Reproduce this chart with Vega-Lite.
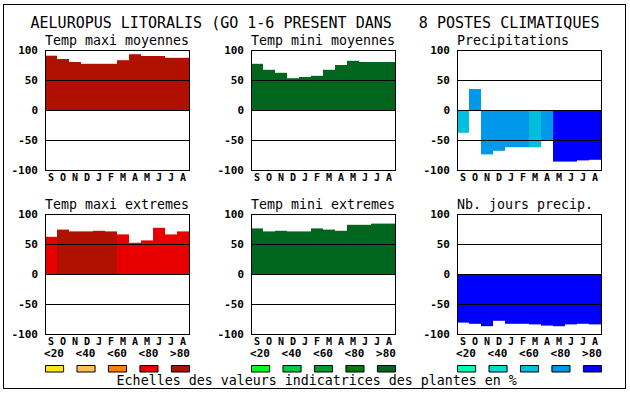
{
"$schema": "https://vega.github.io/schema/vega-lite/v6.json",
"padding": {"left": 3, "top": 4, "right": 0, "bottom": 0},
"autosize": {"type": "pad"},
"background": "white",
"columns": 9,
"spacing": 0,
"bounds": "flush",
"align": "each",
"config": {"view": {"stroke": null}},
"datasets": {
"p1": [{"m":"Sep","v":90.5,"c":"r5"},{"m":"Oct","v":85,"c":"r5"},{"m":"Nov","v":80,"c":"r5"},{"m":"Dec","v":77,"c":"r5"},{"m":"Jan","v":77,"c":"r5"},{"m":"Feb","v":77,"c":"r5"},{"m":"Mar","v":83,"c":"r5"},{"m":"Apr","v":93,"c":"r5"},{"m":"May","v":90,"c":"r5"},{"m":"Jun","v":90,"c":"r5"},{"m":"Jul","v":87,"c":"r5"},{"m":"Aug","v":87,"c":"r5"}],
"p2": [{"m":"Sep","v":77,"c":"g5"},{"m":"Oct","v":67,"c":"g5"},{"m":"Nov","v":62,"c":"g5"},{"m":"Dec","v":53,"c":"g5"},{"m":"Jan","v":55,"c":"g5"},{"m":"Feb","v":57,"c":"g5"},{"m":"Mar","v":67,"c":"g5"},{"m":"Apr","v":75,"c":"g5"},{"m":"May","v":82,"c":"g5"},{"m":"Jun","v":80,"c":"g5"},{"m":"Jul","v":80,"c":"g5"},{"m":"Aug","v":80,"c":"g5"}],
"p3": [{"m":"Sep","v":-38,"c":"b3"},{"m":"Oct","v":35,"c":"b4"},{"m":"Nov","v":-74,"c":"b4"},{"m":"Dec","v":-68,"c":"b4"},{"m":"Jan","v":-62,"c":"b4"},{"m":"Feb","v":-62,"c":"b4"},{"m":"Mar","v":-62,"c":"b3"},{"m":"Apr","v":-50,"c":"b4"},{"m":"May","v":-86,"c":"b5"},{"m":"Jun","v":-86,"c":"b5"},{"m":"Jul","v":-84,"c":"b5"},{"m":"Aug","v":-83,"c":"b5"}],
"p4": [{"m":"Sep","v":62,"c":"r4"},{"m":"Oct","v":74,"c":"r5"},{"m":"Nov","v":71,"c":"r5"},{"m":"Dec","v":71,"c":"r5"},{"m":"Jan","v":72,"c":"r5"},{"m":"Feb","v":71,"c":"r5"},{"m":"Mar","v":66,"c":"r4"},{"m":"Apr","v":52,"c":"r4"},{"m":"May","v":56,"c":"r4"},{"m":"Jun","v":77,"c":"r4"},{"m":"Jul","v":66,"c":"r4"},{"m":"Aug","v":71,"c":"r4"}],
"p5": [{"m":"Sep","v":76,"c":"g5"},{"m":"Oct","v":71,"c":"g5"},{"m":"Nov","v":72,"c":"g5"},{"m":"Dec","v":71,"c":"g5"},{"m":"Jan","v":71,"c":"g5"},{"m":"Feb","v":76,"c":"g5"},{"m":"Mar","v":74,"c":"g5"},{"m":"Apr","v":72,"c":"g5"},{"m":"May","v":82,"c":"g5"},{"m":"Jun","v":82,"c":"g5"},{"m":"Jul","v":84,"c":"g5"},{"m":"Aug","v":84,"c":"g5"}],
"p6": [{"m":"Sep","v":-81,"c":"b5"},{"m":"Oct","v":-83,"c":"b5"},{"m":"Nov","v":-87,"c":"b5"},{"m":"Dec","v":-78,"c":"b5"},{"m":"Jan","v":-83,"c":"b5"},{"m":"Feb","v":-83,"c":"b5"},{"m":"Mar","v":-84,"c":"b5"},{"m":"Apr","v":-86,"c":"b5"},{"m":"May","v":-87,"c":"b5"},{"m":"Jun","v":-84,"c":"b5"},{"m":"Jul","v":-83,"c":"b5"},{"m":"Aug","v":-84,"c":"b5"}],
"lr": [{"l":"<20","c":"r1"},{"l":"<40","c":"r2"},{"l":"<60","c":"r3"},{"l":"<80","c":"r4"},{"l":">80","c":"r5"}],
"lg": [{"l":"<20","c":"g1"},{"l":"<40","c":"g2"},{"l":"<60","c":"g3"},{"l":"<80","c":"g4"},{"l":">80","c":"g5"}],
"lb": [{"l":"<20","c":"b1"},{"l":"<40","c":"b2"},{"l":"<60","c":"b3"},{"l":"<80","c":"b4"},{"l":">80","c":"b5"}]
},
"concat": [
{"width":1,"height":1,"data":{"values":[]},"mark":"point","encoding":{},"view":{"fill":"black","stroke":null}},
{"width":41,"height":1,"data":{"values":[]},"mark":"point","encoding":{},"view":{"fill":"black","stroke":null}},
{"width":144,"height":1,"data":{"values":[]},"mark":"point","encoding":{},"view":{"fill":"black","stroke":null}},
{"width":62,"height":1,"data":{"values":[]},"mark":"point","encoding":{},"view":{"fill":"black","stroke":null}},
{"width":144,"height":1,"data":{"values":[]},"mark":"point","encoding":{},"view":{"fill":"black","stroke":null}},
{"width":62,"height":1,"data":{"values":[]},"mark":"point","encoding":{},"view":{"fill":"black","stroke":null}},
{"width":144,"height":1,"data":{"values":[]},"mark":"point","encoding":{},"view":{"fill":"black","stroke":null}},
{"width":24,"height":1,"data":{"values":[]},"mark":"point","encoding":{},"view":{"fill":"black","stroke":null}},
{"width":1,"height":1,"data":{"values":[]},"mark":"point","encoding":{},"view":{"fill":"black","stroke":null}},

{"width":1,"height":45,"data":{"values":[]},"mark":"point","encoding":{},"view":{"fill":"black","stroke":null}},
{"width":41,"height":45,"data":{"values":[]},"mark":"point","encoding":{}},
{"width":144,"height":45,"data":{"values":[]},"mark":"point","encoding":{}},
{"width":62,"height":45,"data":{"values":[]},"mark":"point","encoding":{}},
{"width":144,"height":45,"data":{"values":[{"t":"AELUROPUS LITORALIS (GO 1-6 PRESENT DANS\u00a0\u00a0\u00a08 POSTES CLIMATIQUES"}]},"mark":{"type":"text","font":"DejaVu Sans Mono","fontSize":15,"baseline":"alphabetic","align":"center","dx":-8,"color":"black"},"encoding":{"text":{"field":"t"}}},
{"width":62,"height":45,"data":{"values":[]},"mark":"point","encoding":{}},
{"width":144,"height":45,"data":{"values":[]},"mark":"point","encoding":{}},
{"width":24,"height":45,"data":{"values":[]},"mark":"point","encoding":{}},
{"width":1,"height":45,"data":{"values":[]},"mark":"point","encoding":{},"view":{"fill":"black","stroke":null}},

{"width":1,"height":120,"data":{"values":[]},"mark":"point","encoding":{},"view":{"fill":"black","stroke":null}},
{"width":41,"height":120,"data":{"values":[]},"mark":"point","encoding":{}},
{"width":144,"height":120,"title":{"text":"Temp maxi moyennes","anchor":"start","frame":"group","offset":-14,"baseline":"alphabetic","font":"DejaVu Sans Mono","fontSize":13.3,"fontWeight":"normal","color":"black"},
 "layer":[
  {"data":{"name":"p1"},"mark":{"type":"bar"},"encoding":{
   "x":{"field":"m","type":"ordinal","sort":null,"scale":{"domain":["Sep","Oct","Nov","Dec","Jan","Feb","Mar","Apr","May","Jun","Jul","Aug"],"paddingInner":0,"paddingOuter":0},"axis":{"orient":"bottom","title":null,"domain":false,"ticks":false,"tickSize":0,"grid":false,"labelExpr":"substring(datum.value,0,1)","labelFont":"DejaVu Sans Mono","labelFontWeight":"bold","labelFontSize":10,"labelColor":"black","labelPadding":10,"labelBaseline":"alphabetic","labelAngle":0,"labelOverlap":false}},
   "y":{"field":"v","type":"quantitative","scale":{"domain":[-100,100],"nice":false},"axis":{"orient":"left","title":null,"values":[-100,-50,0,50,100],"labelExpr":"'' + datum.value","domain":true,"domainColor":"black","domainWidth":1,"domainCap":"square","ticks":false,"tickSize":0,"grid":true,"gridColor":"black","gridOpacity":1,"gridWidth":1,"labelFont":"DejaVu Sans Mono","labelFontWeight":"bold","labelFontSize":11,"labelColor":"black","labelPadding":7.5,"labelOverlap":false,"labelFlush":false,"zindex":1}},
   "color":{"field":"c","type":"nominal","scale":{"domain":["r1","r2","r3","r4","r5","g1","g2","g3","g4","g5","b1","b2","b3","b4","b5"],"range":["#ffe41a","#ffbe50","#ff8000","#e80000","#b01000","#00ff1a","#00cc40","#009b30","#007c00","#00661e","#00ffb4","#00ddd0","#00bee0","#0098e8","#0000ff"]},"legend":null}}},
  {"data":{"values":[]},"mark":{"type":"point"},"encoding":{"y":{"field":"v","type":"quantitative","scale":{"domain":[-100,100],"nice":false},"axis":{"orient":"right","title":null,"domain":true,"domainColor":"black","domainWidth":1,"domainCap":"square","ticks":false,"labels":false,"grid":false,"zindex":1}}}}
 ]},
{"width":62,"height":120,"data":{"values":[]},"mark":"point","encoding":{}},
{"width":144,"height":120,"title":{"text":"Temp mini moyennes","anchor":"start","frame":"group","offset":-14,"baseline":"alphabetic","font":"DejaVu Sans Mono","fontSize":13.3,"fontWeight":"normal","color":"black"},
 "layer":[
  {"data":{"name":"p2"},"mark":{"type":"bar"},"encoding":{
   "x":{"field":"m","type":"ordinal","sort":null,"scale":{"domain":["Sep","Oct","Nov","Dec","Jan","Feb","Mar","Apr","May","Jun","Jul","Aug"],"paddingInner":0,"paddingOuter":0},"axis":{"orient":"bottom","title":null,"domain":false,"ticks":false,"tickSize":0,"grid":false,"labelExpr":"substring(datum.value,0,1)","labelFont":"DejaVu Sans Mono","labelFontWeight":"bold","labelFontSize":10,"labelColor":"black","labelPadding":10,"labelBaseline":"alphabetic","labelAngle":0,"labelOverlap":false}},
   "y":{"field":"v","type":"quantitative","scale":{"domain":[-100,100],"nice":false},"axis":{"orient":"left","title":null,"values":[-100,-50,0,50,100],"labelExpr":"'' + datum.value","domain":true,"domainColor":"black","domainWidth":1,"domainCap":"square","ticks":false,"tickSize":0,"grid":true,"gridColor":"black","gridOpacity":1,"gridWidth":1,"labelFont":"DejaVu Sans Mono","labelFontWeight":"bold","labelFontSize":11,"labelColor":"black","labelPadding":7.5,"labelOverlap":false,"labelFlush":false,"zindex":1}},
   "color":{"field":"c","type":"nominal","scale":{"domain":["r1","r2","r3","r4","r5","g1","g2","g3","g4","g5","b1","b2","b3","b4","b5"],"range":["#ffe41a","#ffbe50","#ff8000","#e80000","#b01000","#00ff1a","#00cc40","#009b30","#007c00","#00661e","#00ffb4","#00ddd0","#00bee0","#0098e8","#0000ff"]},"legend":null}}},
  {"data":{"values":[]},"mark":{"type":"point"},"encoding":{"y":{"field":"v","type":"quantitative","scale":{"domain":[-100,100],"nice":false},"axis":{"orient":"right","title":null,"domain":true,"domainColor":"black","domainWidth":1,"domainCap":"square","ticks":false,"labels":false,"grid":false,"zindex":1}}}}
 ]},
{"width":62,"height":120,"data":{"values":[]},"mark":"point","encoding":{}},
{"width":144,"height":120,"title":{"text":"Precipitations","anchor":"start","frame":"group","offset":-14,"baseline":"alphabetic","font":"DejaVu Sans Mono","fontSize":13.3,"fontWeight":"normal","color":"black"},
 "layer":[
  {"data":{"name":"p3"},"mark":{"type":"bar"},"encoding":{
   "x":{"field":"m","type":"ordinal","sort":null,"scale":{"domain":["Sep","Oct","Nov","Dec","Jan","Feb","Mar","Apr","May","Jun","Jul","Aug"],"paddingInner":0,"paddingOuter":0},"axis":{"orient":"bottom","title":null,"domain":false,"ticks":false,"tickSize":0,"grid":false,"labelExpr":"substring(datum.value,0,1)","labelFont":"DejaVu Sans Mono","labelFontWeight":"bold","labelFontSize":10,"labelColor":"black","labelPadding":10,"labelBaseline":"alphabetic","labelAngle":0,"labelOverlap":false}},
   "y":{"field":"v","type":"quantitative","scale":{"domain":[-100,100],"nice":false},"axis":{"orient":"left","title":null,"values":[-100,-50,0,50,100],"labelExpr":"'' + datum.value","domain":true,"domainColor":"black","domainWidth":1,"domainCap":"square","ticks":false,"tickSize":0,"grid":true,"gridColor":"black","gridOpacity":1,"gridWidth":1,"labelFont":"DejaVu Sans Mono","labelFontWeight":"bold","labelFontSize":11,"labelColor":"black","labelPadding":7.5,"labelOverlap":false,"labelFlush":false,"zindex":1}},
   "color":{"field":"c","type":"nominal","scale":{"domain":["r1","r2","r3","r4","r5","g1","g2","g3","g4","g5","b1","b2","b3","b4","b5"],"range":["#ffe41a","#ffbe50","#ff8000","#e80000","#b01000","#00ff1a","#00cc40","#009b30","#007c00","#00661e","#00ffb4","#00ddd0","#00bee0","#0098e8","#0000ff"]},"legend":null}}},
  {"data":{"values":[]},"mark":{"type":"point"},"encoding":{"y":{"field":"v","type":"quantitative","scale":{"domain":[-100,100],"nice":false},"axis":{"orient":"right","title":null,"domain":true,"domainColor":"black","domainWidth":1,"domainCap":"square","ticks":false,"labels":false,"grid":false,"zindex":1}}}}
 ]},
{"width":24,"height":120,"data":{"values":[]},"mark":"point","encoding":{}},
{"width":1,"height":120,"data":{"values":[]},"mark":"point","encoding":{},"view":{"fill":"black","stroke":null}},

{"width":1,"height":44,"data":{"values":[]},"mark":"point","encoding":{},"view":{"fill":"black","stroke":null}},
{"width":41,"height":44,"data":{"values":[]},"mark":"point","encoding":{}},
{"width":144,"height":44,"data":{"values":[]},"mark":"point","encoding":{}},
{"width":62,"height":44,"data":{"values":[]},"mark":"point","encoding":{}},
{"width":144,"height":44,"data":{"values":[]},"mark":"point","encoding":{}},
{"width":62,"height":44,"data":{"values":[]},"mark":"point","encoding":{}},
{"width":144,"height":44,"data":{"values":[]},"mark":"point","encoding":{}},
{"width":24,"height":44,"data":{"values":[]},"mark":"point","encoding":{}},
{"width":1,"height":44,"data":{"values":[]},"mark":"point","encoding":{},"view":{"fill":"black","stroke":null}},

{"width":1,"height":120,"data":{"values":[]},"mark":"point","encoding":{},"view":{"fill":"black","stroke":null}},
{"width":41,"height":120,"data":{"values":[]},"mark":"point","encoding":{}},
{"width":144,"height":120,"title":{"text":"Temp maxi extremes","anchor":"start","frame":"group","offset":-14,"baseline":"alphabetic","font":"DejaVu Sans Mono","fontSize":13.3,"fontWeight":"normal","color":"black"},
 "layer":[
  {"data":{"name":"p4"},"mark":{"type":"bar"},"encoding":{
   "x":{"field":"m","type":"ordinal","sort":null,"scale":{"domain":["Sep","Oct","Nov","Dec","Jan","Feb","Mar","Apr","May","Jun","Jul","Aug"],"paddingInner":0,"paddingOuter":0},"axis":{"orient":"bottom","title":null,"domain":false,"ticks":false,"tickSize":0,"grid":false,"labelExpr":"substring(datum.value,0,1)","labelFont":"DejaVu Sans Mono","labelFontWeight":"bold","labelFontSize":10,"labelColor":"black","labelPadding":10,"labelBaseline":"alphabetic","labelAngle":0,"labelOverlap":false}},
   "y":{"field":"v","type":"quantitative","scale":{"domain":[-100,100],"nice":false},"axis":{"orient":"left","title":null,"values":[-100,-50,0,50,100],"labelExpr":"'' + datum.value","domain":true,"domainColor":"black","domainWidth":1,"domainCap":"square","ticks":false,"tickSize":0,"grid":true,"gridColor":"black","gridOpacity":1,"gridWidth":1,"labelFont":"DejaVu Sans Mono","labelFontWeight":"bold","labelFontSize":11,"labelColor":"black","labelPadding":7.5,"labelOverlap":false,"labelFlush":false,"zindex":1}},
   "color":{"field":"c","type":"nominal","scale":{"domain":["r1","r2","r3","r4","r5","g1","g2","g3","g4","g5","b1","b2","b3","b4","b5"],"range":["#ffe41a","#ffbe50","#ff8000","#e80000","#b01000","#00ff1a","#00cc40","#009b30","#007c00","#00661e","#00ffb4","#00ddd0","#00bee0","#0098e8","#0000ff"]},"legend":null}}},
  {"data":{"values":[]},"mark":{"type":"point"},"encoding":{"y":{"field":"v","type":"quantitative","scale":{"domain":[-100,100],"nice":false},"axis":{"orient":"right","title":null,"domain":true,"domainColor":"black","domainWidth":1,"domainCap":"square","ticks":false,"labels":false,"grid":false,"zindex":1}}}}
 ]},
{"width":62,"height":120,"data":{"values":[]},"mark":"point","encoding":{}},
{"width":144,"height":120,"title":{"text":"Temp mini extremes","anchor":"start","frame":"group","offset":-14,"baseline":"alphabetic","font":"DejaVu Sans Mono","fontSize":13.3,"fontWeight":"normal","color":"black"},
 "layer":[
  {"data":{"name":"p5"},"mark":{"type":"bar"},"encoding":{
   "x":{"field":"m","type":"ordinal","sort":null,"scale":{"domain":["Sep","Oct","Nov","Dec","Jan","Feb","Mar","Apr","May","Jun","Jul","Aug"],"paddingInner":0,"paddingOuter":0},"axis":{"orient":"bottom","title":null,"domain":false,"ticks":false,"tickSize":0,"grid":false,"labelExpr":"substring(datum.value,0,1)","labelFont":"DejaVu Sans Mono","labelFontWeight":"bold","labelFontSize":10,"labelColor":"black","labelPadding":10,"labelBaseline":"alphabetic","labelAngle":0,"labelOverlap":false}},
   "y":{"field":"v","type":"quantitative","scale":{"domain":[-100,100],"nice":false},"axis":{"orient":"left","title":null,"values":[-100,-50,0,50,100],"labelExpr":"'' + datum.value","domain":true,"domainColor":"black","domainWidth":1,"domainCap":"square","ticks":false,"tickSize":0,"grid":true,"gridColor":"black","gridOpacity":1,"gridWidth":1,"labelFont":"DejaVu Sans Mono","labelFontWeight":"bold","labelFontSize":11,"labelColor":"black","labelPadding":7.5,"labelOverlap":false,"labelFlush":false,"zindex":1}},
   "color":{"field":"c","type":"nominal","scale":{"domain":["r1","r2","r3","r4","r5","g1","g2","g3","g4","g5","b1","b2","b3","b4","b5"],"range":["#ffe41a","#ffbe50","#ff8000","#e80000","#b01000","#00ff1a","#00cc40","#009b30","#007c00","#00661e","#00ffb4","#00ddd0","#00bee0","#0098e8","#0000ff"]},"legend":null}}},
  {"data":{"values":[]},"mark":{"type":"point"},"encoding":{"y":{"field":"v","type":"quantitative","scale":{"domain":[-100,100],"nice":false},"axis":{"orient":"right","title":null,"domain":true,"domainColor":"black","domainWidth":1,"domainCap":"square","ticks":false,"labels":false,"grid":false,"zindex":1}}}}
 ]},
{"width":62,"height":120,"data":{"values":[]},"mark":"point","encoding":{}},
{"width":144,"height":120,"title":{"text":"Nb. jours precip.","anchor":"start","frame":"group","offset":-14,"baseline":"alphabetic","font":"DejaVu Sans Mono","fontSize":13.3,"fontWeight":"normal","color":"black"},
 "layer":[
  {"data":{"name":"p6"},"mark":{"type":"bar"},"encoding":{
   "x":{"field":"m","type":"ordinal","sort":null,"scale":{"domain":["Sep","Oct","Nov","Dec","Jan","Feb","Mar","Apr","May","Jun","Jul","Aug"],"paddingInner":0,"paddingOuter":0},"axis":{"orient":"bottom","title":null,"domain":false,"ticks":false,"tickSize":0,"grid":false,"labelExpr":"substring(datum.value,0,1)","labelFont":"DejaVu Sans Mono","labelFontWeight":"bold","labelFontSize":10,"labelColor":"black","labelPadding":10,"labelBaseline":"alphabetic","labelAngle":0,"labelOverlap":false}},
   "y":{"field":"v","type":"quantitative","scale":{"domain":[-100,100],"nice":false},"axis":{"orient":"left","title":null,"values":[-100,-50,0,50,100],"labelExpr":"'' + datum.value","domain":true,"domainColor":"black","domainWidth":1,"domainCap":"square","ticks":false,"tickSize":0,"grid":true,"gridColor":"black","gridOpacity":1,"gridWidth":1,"labelFont":"DejaVu Sans Mono","labelFontWeight":"bold","labelFontSize":11,"labelColor":"black","labelPadding":7.5,"labelOverlap":false,"labelFlush":false,"zindex":1}},
   "color":{"field":"c","type":"nominal","scale":{"domain":["r1","r2","r3","r4","r5","g1","g2","g3","g4","g5","b1","b2","b3","b4","b5"],"range":["#ffe41a","#ffbe50","#ff8000","#e80000","#b01000","#00ff1a","#00cc40","#009b30","#007c00","#00661e","#00ffb4","#00ddd0","#00bee0","#0098e8","#0000ff"]},"legend":null}}},
  {"data":{"values":[]},"mark":{"type":"point"},"encoding":{"y":{"field":"v","type":"quantitative","scale":{"domain":[-100,100],"nice":false},"axis":{"orient":"right","title":null,"domain":true,"domainColor":"black","domainWidth":1,"domainCap":"square","ticks":false,"labels":false,"grid":false,"zindex":1}}}}
 ]},
{"width":24,"height":120,"data":{"values":[]},"mark":"point","encoding":{}},
{"width":1,"height":120,"data":{"values":[]},"mark":"point","encoding":{},"view":{"fill":"black","stroke":null}},

{"width":1,"height":31,"data":{"values":[]},"mark":"point","encoding":{},"view":{"fill":"black","stroke":null}},
{"width":41,"height":31,"data":{"values":[]},"mark":"point","encoding":{}},
{"width":144,"height":31,"data":{"values":[]},"mark":"point","encoding":{}},
{"width":62,"height":31,"data":{"values":[]},"mark":"point","encoding":{}},
{"width":144,"height":31,"data":{"values":[]},"mark":"point","encoding":{}},
{"width":62,"height":31,"data":{"values":[]},"mark":"point","encoding":{}},
{"width":144,"height":31,"data":{"values":[]},"mark":"point","encoding":{}},
{"width":24,"height":31,"data":{"values":[]},"mark":"point","encoding":{}},
{"width":1,"height":31,"data":{"values":[]},"mark":"point","encoding":{},"view":{"fill":"black","stroke":null}},

{"width":1,"height":7,"data":{"values":[]},"mark":"point","encoding":{},"view":{"fill":"black","stroke":null}},
{"width":41,"height":7,"data":{"values":[]},"mark":"point","encoding":{}},
{"width":144,"height":7,"data":{"name":"lr"},"mark":{"type":"rect","stroke":"black","strokeWidth":1,"xOffset":0.5,"yOffset":0.5},"encoding":{
  "x":{"field":"l","type":"ordinal","sort":null,"scale":{"domain":["<20","<40","<60","<80",">80"],"paddingInner":0.42424,"paddingOuter":-0.10606,"align":0.857},"axis":{"orient":"top","title":null,"domain":false,"ticks":false,"tickSize":0,"grid":false,"labelFont":"DejaVu Sans Mono","labelFontWeight":"bold","labelFontSize":11,"labelColor":"black","labelPadding":8.5,"labelBaseline":"alphabetic","labelAngle":0,"labelOverlap":false}},
  "color":{"field":"c","type":"nominal","scale":{"domain":["r1","r2","r3","r4","r5","g1","g2","g3","g4","g5","b1","b2","b3","b4","b5"],"range":["#ffe41a","#ffbe50","#ff8000","#e80000","#b01000","#00ff1a","#00cc40","#009b30","#007c00","#00661e","#00ffb4","#00ddd0","#00bee0","#0098e8","#0000ff"]},"legend":null}}},
{"width":62,"height":7,"data":{"values":[]},"mark":"point","encoding":{}},
{"width":144,"height":7,"data":{"name":"lg"},"mark":{"type":"rect","stroke":"black","strokeWidth":1,"xOffset":0.5,"yOffset":0.5},"encoding":{
  "x":{"field":"l","type":"ordinal","sort":null,"scale":{"domain":["<20","<40","<60","<80",">80"],"paddingInner":0.42424,"paddingOuter":-0.10606,"align":0.714},"axis":{"orient":"top","title":null,"domain":false,"ticks":false,"tickSize":0,"grid":false,"labelFont":"DejaVu Sans Mono","labelFontWeight":"bold","labelFontSize":11,"labelColor":"black","labelPadding":8.5,"labelBaseline":"alphabetic","labelAngle":0,"labelOverlap":false}},
  "color":{"field":"c","type":"nominal","scale":{"domain":["r1","r2","r3","r4","r5","g1","g2","g3","g4","g5","b1","b2","b3","b4","b5"],"range":["#ffe41a","#ffbe50","#ff8000","#e80000","#b01000","#00ff1a","#00cc40","#009b30","#007c00","#00661e","#00ffb4","#00ddd0","#00bee0","#0098e8","#0000ff"]},"legend":null}}},
{"width":62,"height":7,"data":{"values":[]},"mark":"point","encoding":{}},
{"width":144,"height":7,"data":{"name":"lb"},"mark":{"type":"rect","stroke":"black","strokeWidth":1,"xOffset":0.5,"yOffset":0.5},"encoding":{
  "x":{"field":"l","type":"ordinal","sort":null,"scale":{"domain":["<20","<40","<60","<80",">80"],"paddingInner":0.42424,"paddingOuter":-0.10606,"align":0.571},"axis":{"orient":"top","title":null,"domain":false,"ticks":false,"tickSize":0,"grid":false,"labelFont":"DejaVu Sans Mono","labelFontWeight":"bold","labelFontSize":11,"labelColor":"black","labelPadding":8.5,"labelBaseline":"alphabetic","labelAngle":0,"labelOverlap":false}},
  "color":{"field":"c","type":"nominal","scale":{"domain":["r1","r2","r3","r4","r5","g1","g2","g3","g4","g5","b1","b2","b3","b4","b5"],"range":["#ffe41a","#ffbe50","#ff8000","#e80000","#b01000","#00ff1a","#00cc40","#009b30","#007c00","#00661e","#00ffb4","#00ddd0","#00bee0","#0098e8","#0000ff"]},"legend":null}}},
{"width":24,"height":7,"data":{"values":[]},"mark":"point","encoding":{}},
{"width":1,"height":7,"data":{"values":[]},"mark":"point","encoding":{},"view":{"fill":"black","stroke":null}},

{"width":1,"height":16,"data":{"values":[]},"mark":"point","encoding":{},"view":{"fill":"black","stroke":null}},
{"width":41,"height":16,"data":{"values":[]},"mark":"point","encoding":{}},
{"width":144,"height":16,"data":{"values":[]},"mark":"point","encoding":{}},
{"width":62,"height":16,"data":{"values":[]},"mark":"point","encoding":{}},
{"width":144,"height":16,"data":{"values":[{"t":"Echelles des valeurs indicatrices des plantes en %"}]},"mark":{"type":"text","font":"DejaVu Sans Mono","fontSize":13.3,"baseline":"alphabetic","align":"center","dx":-6.25,"dy":5,"color":"black"},"encoding":{"text":{"field":"t"}}},
{"width":62,"height":16,"data":{"values":[]},"mark":"point","encoding":{}},
{"width":144,"height":16,"data":{"values":[]},"mark":"point","encoding":{}},
{"width":24,"height":16,"data":{"values":[]},"mark":"point","encoding":{}},
{"width":1,"height":16,"data":{"values":[]},"mark":"point","encoding":{},"view":{"fill":"black","stroke":null}},

{"width":1,"height":1,"data":{"values":[]},"mark":"point","encoding":{},"view":{"fill":"black","stroke":null}},
{"width":41,"height":1,"data":{"values":[]},"mark":"point","encoding":{},"view":{"fill":"black","stroke":null}},
{"width":144,"height":1,"data":{"values":[]},"mark":"point","encoding":{},"view":{"fill":"black","stroke":null}},
{"width":62,"height":1,"data":{"values":[]},"mark":"point","encoding":{},"view":{"fill":"black","stroke":null}},
{"width":144,"height":1,"data":{"values":[]},"mark":"point","encoding":{},"view":{"fill":"black","stroke":null}},
{"width":62,"height":1,"data":{"values":[]},"mark":"point","encoding":{},"view":{"fill":"black","stroke":null}},
{"width":144,"height":1,"data":{"values":[]},"mark":"point","encoding":{},"view":{"fill":"black","stroke":null}},
{"width":24,"height":1,"data":{"values":[]},"mark":"point","encoding":{},"view":{"fill":"black","stroke":null}},
{"width":1,"height":1,"data":{"values":[]},"mark":"point","encoding":{},"view":{"fill":"black","stroke":null}}
]
}
